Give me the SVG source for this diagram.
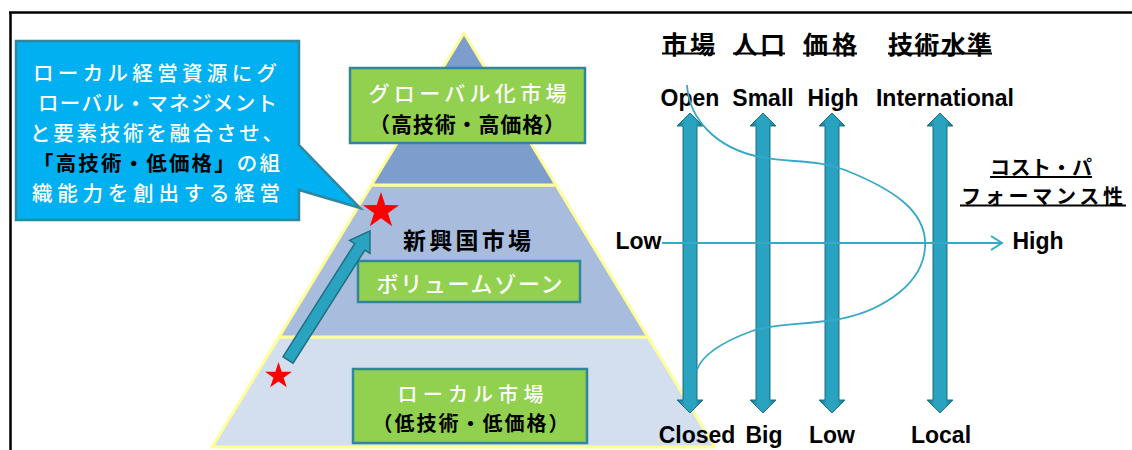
<svg xmlns="http://www.w3.org/2000/svg" width="1132" height="450" viewBox="0 0 1132 450">
  <defs>
    <style>
      .jp { font-family: 'Noto Sans CJK JP', 'Noto Sans', sans-serif; }
      .en { font-family: 'Liberation Sans', Arial, sans-serif; font-weight: bold; font-size: 23px; fill: #000; }
      .wt { fill: #ffffff; font-weight: 500; }
      .bk { fill: #000000; font-weight: bold; }
      .gbox { fill: #92D050; stroke: #31859C; stroke-width: 2.5; }
      .tier { stroke: #FFFF99; stroke-width: 3; stroke-linejoin: round; }
      .varrow { fill: url(#shaftGrad); stroke: #1F7286; stroke-width: 1; }
      .ul { stroke: #000; stroke-width: 2; }
      .thin { fill: none; stroke: #36A8C8; stroke-width: 1.8; }
    </style>
    <linearGradient id="shaftGrad" x1="0" y1="0" x2="1" y2="0">
      <stop offset="0" stop-color="#1C6D80"/>
      <stop offset="0.3" stop-color="#2AA3C0"/>
      <stop offset="0.7" stop-color="#2AA3C0"/>
      <stop offset="1" stop-color="#1C6D80"/>
    </linearGradient>
    <path id="star" d="M0,-19 L4.29,-5.91 L18.07,-5.87 L6.94,2.26 L11.17,15.37 L0,7.3 L-11.17,15.37 L-6.94,2.26 L-18.07,-5.87 L-4.29,-5.91 Z" fill="#FF0000"/>
  </defs>

  <rect x="0" y="0" width="1132" height="450" fill="#ffffff"/>

  <!-- frame -->
  <g id="frame">
    <line x1="9" y1="12.5" x2="1132" y2="12.5" stroke="#000" stroke-width="2.5"/>
    <line x1="10.5" y1="12" x2="10.5" y2="450" stroke="#000" stroke-width="2.5"/>
  </g>

  <!-- pyramid -->
  <g id="pyramid">
    <polygon class="tier" fill="#D3DEEF" points="279,337 648,337 715,447 212,447"/>
    <polygon class="tier" fill="#A8BCDD" points="371.5,185 556,185 648,337 279,337"/>
    <polygon class="tier" fill="#7D9DCD" points="464,33 556,185 371.5,185"/>
  </g>

  <!-- global market box -->
  <g id="global-market">
    <rect class="gbox" x="350" y="68" width="235" height="75"/>
    <text class="jp wt" x="467.5" y="92" font-size="21" text-anchor="middle" dominant-baseline="central" textLength="198" lengthAdjust="spacing">グローバル化市場</text>
    <text class="jp bk" x="467" y="123" font-size="21" text-anchor="middle" dominant-baseline="central" textLength="196" lengthAdjust="spacing">（高技術・高価格）</text>
  </g>

  <!-- emerging market -->
  <g id="emerging-market">
    <text class="jp bk" x="467" y="239" font-size="23" text-anchor="middle" dominant-baseline="central" textLength="128" lengthAdjust="spacing">新興国市場</text>
  </g>

  <!-- volume zone -->
  <g id="volume-zone">
    <rect class="gbox" x="358" y="261" width="222" height="41"/>
    <text class="jp wt" x="469.5" y="282" font-size="22" text-anchor="middle" dominant-baseline="central" textLength="186" lengthAdjust="spacing">ボリュームゾーン</text>
  </g>

  <!-- local market -->
  <g id="local-market">
    <rect class="gbox" x="353" y="369" width="234" height="74"/>
    <text class="jp wt" x="470.5" y="393" font-size="20" text-anchor="middle" dominant-baseline="central" textLength="146" lengthAdjust="spacing">ローカル市場</text>
    <text class="jp bk" x="470.5" y="422" font-size="20" text-anchor="middle" dominant-baseline="central" textLength="196" lengthAdjust="spacing">（低技術・低価格）</text>
  </g>

  <!-- callout -->
  <g id="callout">
    <path d="M16,41 H299 V145 L360,208 L299,190 V220 H16 Z" fill="#00B0F0" stroke="#31859C" stroke-width="2.5" stroke-linejoin="miter"/>
    <g class="jp" font-size="20.5" text-anchor="middle" dominant-baseline="central">
      <text class="wt" x="155" y="72" textLength="244" lengthAdjust="spacing">ローカル経営資源にグ</text>
      <text class="wt" x="157.5" y="102" textLength="239" lengthAdjust="spacing">ローバル・マネジメント</text>
      <text class="wt" x="156.5" y="132" textLength="253" lengthAdjust="spacing">と要素技術を融合させ、</text>
      <text x="156.5" y="162" textLength="247" lengthAdjust="spacing"><tspan class="bk">「高技術・低価格」</tspan><tspan class="wt">の組</tspan></text>
      <text class="wt" x="156" y="192" textLength="248" lengthAdjust="spacing">織能力を創出する経営</text>
    </g>
  </g>

  <!-- stars -->
  <g id="star-high">
    <use href="#star" transform="translate(381,211)"/>
  </g>
  <g id="star-low">
    <use href="#star" transform="translate(278.5,376) scale(0.74)"/>
  </g>

  <!-- headers -->
  <g id="headers" class="jp">
    <text class="bk" x="688.5" y="43" font-size="25" text-anchor="middle" dominant-baseline="central" textLength="53" lengthAdjust="spacing">市場</text>
    <line class="ul" x1="662" y1="53.5" x2="715" y2="53.5"/>
    <text class="bk" x="759" y="43" font-size="25" text-anchor="middle" dominant-baseline="central" textLength="52" lengthAdjust="spacing">人口</text>
    <line class="ul" x1="733" y1="53.5" x2="785" y2="53.5"/>
    <text class="bk" x="830" y="43" font-size="25" text-anchor="middle" dominant-baseline="central" textLength="54" lengthAdjust="spacing">価格</text>
    <line class="ul" x1="803" y1="53.5" x2="857" y2="53.5"/>
    <text class="bk" x="940" y="43" font-size="25" text-anchor="middle" dominant-baseline="central" textLength="104" lengthAdjust="spacing">技術水準</text>
    <line class="ul" x1="888" y1="53.5" x2="992" y2="53.5"/>
  </g>

  <!-- cost performance label -->
  <g id="cost-performance" class="jp">
    <text class="bk" x="1041" y="166" font-size="20" text-anchor="middle" dominant-baseline="central" textLength="102" lengthAdjust="spacing">コスト・パ</text>
    <line class="ul" x1="990" y1="177" x2="1092" y2="177"/>
    <text class="bk" x="1042" y="195" font-size="20" text-anchor="middle" dominant-baseline="central" textLength="162" lengthAdjust="spacing">フォーマンス性</text>
    <line class="ul" x1="960" y1="205.5" x2="1126" y2="205.5"/>
  </g>

  <!-- axis labels -->
  <g id="axis-labels" class="en" text-anchor="middle">
    <text x="690" y="106">Open</text>
    <text x="763" y="106">Small</text>
    <text x="833" y="106">High</text>
    <text x="945" y="106">International</text>
    <text x="697" y="443">Closed</text>
    <text x="764" y="443">Big</text>
    <text x="832" y="443">Low</text>
    <text x="941" y="443">Local</text>
    <text x="638.5" y="249">Low</text>
    <text x="1038" y="249">High</text>
  </g>

  <!-- connectors -->
  <g id="connectors">
    <polygon class="varrow" points="690,113 703,126 697,126 697,400 703,400 690,413 677,400 683,400 683,126 677,126"/>
    <polygon class="varrow" points="763,113 776,126 770,126 770,400 776,400 763,413 750,400 756,400 756,126 750,126"/>
    <polygon class="varrow" points="832,113 845,126 839,126 839,400 845,400 832,413 819,400 825,400 825,126 819,126"/>
    <polygon class="varrow" points="940,113 953,126 947,126 947,400 953,400 940,413 927,400 933,400 933,126 927,126"/>
    <polygon fill="#2AA3C0" stroke="#1F6F80" stroke-width="1.5" stroke-linejoin="miter" points="0,-6 134,-6 134,-12 153,0 134,12 134,6 0,6" transform="translate(288,360) rotate(-57.6)"/>
    <line x1="662" y1="243" x2="1001" y2="243" stroke="#36A8C8" stroke-width="2"/>
    <polyline points="991,236 1002,243 991,250" fill="none" stroke="#36A8C8" stroke-width="2"/>
    <path class="thin" d="M687,85 C689,118 715,148 760,157 C790,163 815,159 845,170 C890,188 928,210 925,248 C922,288 875,314 833,320 C800,325 772,324 752,331 C722,342 702,355 697,370"/>
  </g>
</svg>
